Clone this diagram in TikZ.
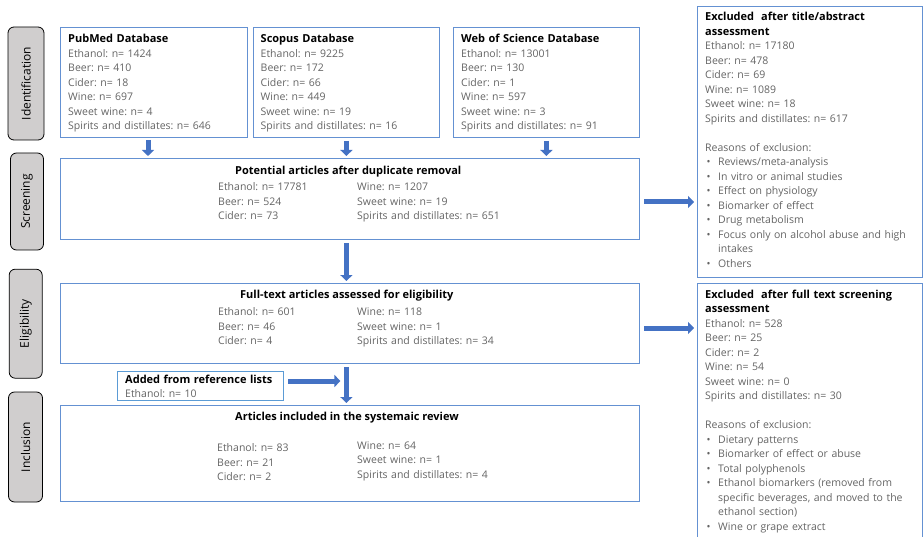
\documentclass[tikz,border=0pt]{standalone}
\usepackage{fontspec}
\setmainfont{Open Sans}
\usetikzlibrary{arrows.meta}
\definecolor{flowblue}{RGB}{68,114,196}
\definecolor{boxblue}{RGB}{100,145,210}
\definecolor{addblue}{RGB}{91,155,213}
\definecolor{stagegray}{RGB}{208,206,206}
\definecolor{bodygray}{RGB}{100,100,100}
\newcommand{\boxhead}[1]{{\color{black}\fontsize{11}{14.5}\selectfont\bfseries #1}}
\newcommand{\bulletline}[1]{\makebox[13pt][l]{\hspace{1.5pt}\textbullet}#1}
\frenchspacing

\begin{document}
\begin{tikzpicture}[x=1pt, y=-1pt,
    stage/.style={draw=black, line width=0.8pt, fill=stagegray, rounded corners=6pt, rotate=90, inner sep=0pt, font=\fontsize{12}{13}\selectfont},
    dbbox/.style={draw=boxblue, line width=0.8pt, anchor=north west, inner sep=0pt},
    boxtxt/.style={anchor=base west, inner sep=0pt, align=left, text=bodygray, font=\fontsize{10.5}{14.5}\selectfont},
    flowarrow/.style={draw=flowblue, line width=5pt, -{Triangle[length=6pt,width=12pt]}, shorten <=3pt, shorten >=2pt}]
    \clip (0,0) rectangle (923,537);

    \node[stage, minimum width=113pt, minimum height=36pt] (ident) at (26,83.5) {Identification};
    \node[stage, minimum width=97pt, minimum height=33pt] (screening) at (27,201.5) {Screening};
    \node[stage, minimum width=109pt, minimum height=33pt] (eligibility) at (25.7,323.7) {Eligibility};
    \node[stage, minimum width=110pt, minimum height=34pt] (inclusion) at (25.5,447) {Inclusion};

    \node[dbbox, minimum width=187pt, minimum height=110pt] (pubmed) at (60,27) {};
    \node[dbbox, minimum width=186pt, minimum height=110pt] (scopus) at (253,27) {};
    \node[dbbox, minimum width=186pt, minimum height=110pt] (wos) at (453,27) {};
    \node[dbbox, minimum width=579pt, minimum height=81pt] (screen) at (60,158) {};
    \node[dbbox, minimum width=579pt, minimum height=80pt] (elig) at (60,283) {};
    \node[dbbox, draw=addblue, minimum width=166pt, minimum height=29pt] (added) at (117,371) {};
    \node[dbbox, minimum width=579pt, minimum height=96pt] (incl) at (60,405) {};
    \node[dbbox, minimum width=225pt, minimum height=271pt] (exclabs) at (697,6) {};
    \node[dbbox, minimum width=225pt, minimum height=262pt] (exclfull) at (697,283) {};

    \node[boxtxt, text width=178pt] (pubmedtxt) at (68,43) {\boxhead{PubMed Database}\\Ethanol: n= 1424\\Beer: n= 410\\Cider: n= 18\\Wine: n= 697\\Sweet wine: n= 4\\Spirits and distillates: n= 646};
    \node[boxtxt, text width=178pt] (scopustxt) at (260.5,43) {\boxhead{Scopus Database}\\Ethanol: n= 9225\\Beer: n= 172\\Cider: n= 66\\Wine: n= 449\\Sweet wine: n= 19\\Spirits and distillates: n= 16};
    \node[boxtxt, text width=178pt] (wostxt) at (461,43) {\boxhead{Web of Science Database}\\Ethanol: n= 13001\\Beer: n= 130\\Cider: n= 1\\Wine: n= 597\\Sweet wine: n= 3\\Spirits and distillates: n= 91};

    \node[boxtxt] (screenhead) at (235,174.5) {\boxhead{Potential articles after duplicate removal}};
    \node[boxtxt, text width=130pt] (screenleft) at (218,190.7) {Ethanol: n= 17781\\Beer: n= 524\\Cider: n= 73};
    \node[boxtxt, text width=150pt] (screenright) at (357,190.7) {Wine: n= 1207\\Sweet wine: n= 19\\Spirits and distillates: n= 651};

    \node[boxtxt] (elighead) at (240,298.7) {\boxhead{Full-text articles assessed for eligibility}};
    \node[boxtxt, text width=130pt] (eligleft) at (218,315.7) {Ethanol: n= 601\\Beer: n= 46\\Cider: n= 4};
    \node[boxtxt, text width=150pt] (eligright) at (357,315.7) {Wine: n= 118\\Sweet wine: n= 1\\Spirits and distillates: n= 34};

    \node[boxtxt, text width=155pt] (addedtxt) at (125,383.3) {\boxhead{Added from reference lists}\\Ethanol: n= 10};

    \node[boxtxt] (inclhead) at (235,420.7) {\boxhead{Articles included in the systemaic review}};
    \node[boxtxt, text width=130pt] (inclleft) at (217,451.7) {Ethanol: n= 83\\Beer: n= 21\\Cider: n= 2};
    \node[boxtxt, text width=150pt] (inclright) at (357,449) {Wine: n= 64\\Sweet wine: n= 1\\Spirits and distillates: n= 4};

    \node[boxtxt, text width=215pt] (exclabstxt) at (705,20.7) {\boxhead{Excluded\ \ after title/abstract}\\\boxhead{assessment}\\Ethanol: n= 17180\\Beer: n= 478\\Cider: n= 69\\Wine: n= 1089\\Sweet wine: n= 18\\Spirits and distillates: n= 617\\[14.5pt]Reasons of exclusion:\\\bulletline{Reviews/meta-analysis}\\\bulletline{In vitro or animal studies}\\\bulletline{Effect on physiology}\\\bulletline{Biomarker of effect}\\\bulletline{Drug metabolism}\\\bulletline{Focus only on alcohol abuse and high}\\\hspace*{13pt}intakes\\\bulletline{Others}};
    \node[boxtxt, text width=215pt] (exclfulltxt) at (705,298.3) {\boxhead{Excluded\ \ after full text screening}\\\boxhead{assessment}\\Ethanol: n= 528\\Beer: n= 25\\Cider: n= 2\\Wine: n= 54\\Sweet wine: n= 0\\Spirits and distillates: n= 30\\[14.5pt]Reasons of exclusion:\\\bulletline{Dietary patterns}\\\bulletline{Biomarker of effect or abuse}\\\bulletline{Total polyphenols}\\\bulletline{Ethanol biomarkers (removed from}\\\hspace*{13pt}specific beverages, and moved to the\\\hspace*{13pt}ethanol section)\\\bulletline{Wine or grape extract}};

    \coordinate (pubmedout) at (148,137);
    \coordinate (addout) at (283,381);
    \coordinate (screenout) at (639,202);
    \coordinate (eligout) at (639,328);

    \draw[flowarrow] (pubmedout) -- (pubmedout |- screen.north);
    \draw[flowarrow] (scopus.south) -- (scopus.south |- screen.north);
    \draw[flowarrow] (wos.south) -- (wos.south |- screen.north);
    \draw[flowarrow] (scopus.south |- screen.south) -- (scopus.south |- elig.north);
    \draw[flowarrow] (scopus.south |- elig.south) -- (scopus.south |- incl.north);
    \draw[flowarrow, shorten <=5pt, shorten >=6pt] (addout) -- (addout -| scopus.south);
    \draw[flowarrow, shorten <=5pt, shorten >=3pt] (screenout) -- (screenout -| exclabs.west);
    \draw[flowarrow, shorten <=5pt, shorten >=3pt] (eligout) -- (eligout -| exclfull.west);
\end{tikzpicture}
\end{document}
